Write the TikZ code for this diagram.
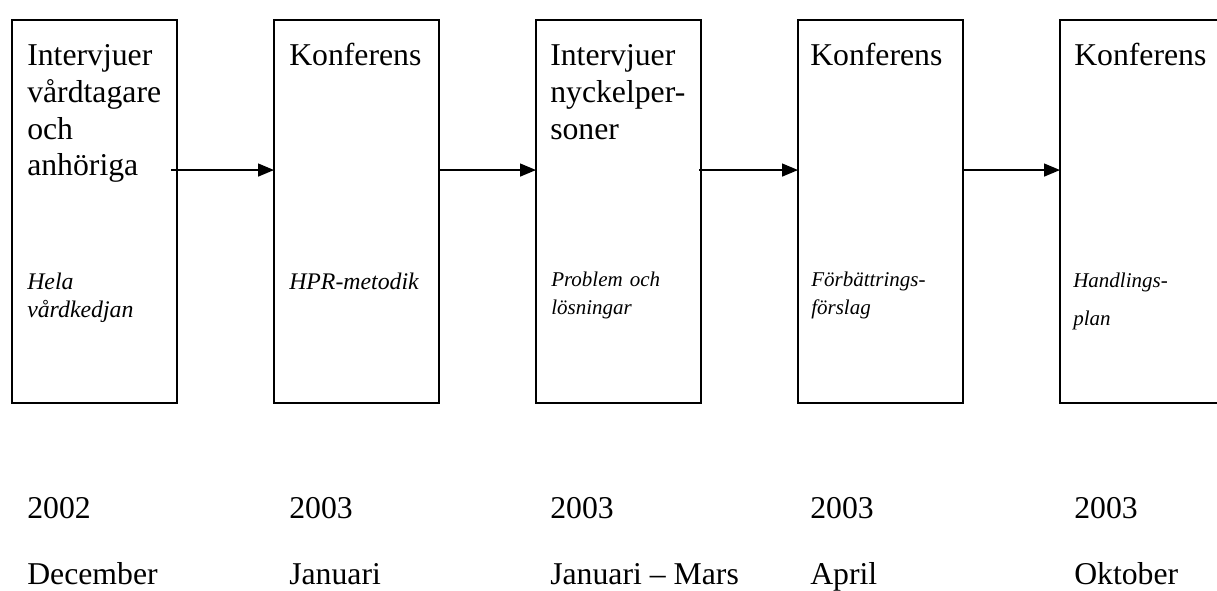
\documentclass[tikz,border=0pt]{standalone}
\usepackage{fontspec}
\setmainfont{Liberation Serif}
\usetikzlibrary{arrows.meta,positioning}

\tikzset{
  stagebox/.style={draw, line width=1.5pt, minimum width=123.75pt, minimum height=287.25pt,
    anchor=north west, inner sep=0pt, outer sep=0pt},
  headtext/.style={anchor=base west, inner sep=0pt, text width=112pt, align=left,
    font=\fontsize{23.8pt}{27.5pt}\selectfont},
  notetext/.style={anchor=base west, inner sep=0pt, text width=112pt, align=left,
    font=\fontsize{17.85pt}{21pt}\selectfont\itshape},
  smallnote/.style={notetext, font=\fontsize{15.75pt}{21pt}\selectfont\itshape},
  datetext/.style={anchor=base west, inner sep=0pt, font=\fontsize{23.8pt}{27.5pt}\selectfont},
  flow/.style={line width=1.1pt, -{Triangle[length=12pt,width=9.75pt]}}
}

\begin{document}
\begin{tikzpicture}[x=0.75pt,y=-0.75pt]
  \useasboundingbox (0,0) rectangle (1217,590);
  \clip (0,0) rectangle (1217,590);
  % stages
  \node[stagebox] (b1) at (12,20) {};
  \node[stagebox, right=72.75pt of b1] (b2) {};
  \node[stagebox, right=72.75pt of b2] (b3) {};
  \node[stagebox, right=72.75pt of b3] (b4) {};
  \node[stagebox, right=72.75pt of b4] (b5) {};
  % headings
  \node[headtext] (h1) at (27,65.7) {Intervjuer\\vårdtagare\\och\\anhöriga};
  \node[headtext] (h2) at (289,65.7) {Konferens};
  \node[headtext] (h3) at (550,65.7) {Intervjuer\\nyckelper-\\soner};
  \node[headtext] (h4) at (810,65.7) {Konferens};
  \node[headtext] (h5) at (1074,65.7) {Konferens};
  % notes
  \node[notetext] (n1) at (27,289.3) {Hela\\vårdkedjan};
  \node[notetext] (n2) at (289,289) {HPR-metodik};
  \node[smallnote] (n3) at (551,286) {Problem och\\lösningar};
  \node[smallnote] (n4) at (811,286) {Förbättrings-\\förslag};
  \node[smallnote, font=\fontsize{15.75pt}{28.5pt}\selectfont\itshape] (n5) at (1073,287) {Handlings-\\plan};
  % dates
  \node[datetext] (y1) at (27,518) {2002};
  \node[datetext] (y2) at (289,518) {2003};
  \node[datetext] (y3) at (550,518) {2003};
  \node[datetext] (y4) at (810,518) {2003};
  \node[datetext] (y5) at (1074,518) {2003};
  \node[datetext] (m1) at (27,584) {December};
  \node[datetext] (m2) at (289,584) {Januari};
  \node[datetext] (m3) at (550,584) {Januari \textendash{} Mars};
  \node[datetext] (m4) at (810,584) {April};
  \node[datetext] (m5) at (1074,584) {Oktober};
  % arrows
  \draw[flow] ([xshift=-4.5pt,yshift=31.1pt]b1.east) -- ([yshift=31.1pt]b2.west);
  \draw[flow] ([yshift=31.1pt]b2.east) -- ([yshift=31.1pt]b3.west);
  \draw[flow] ([xshift=-1.5pt,yshift=31.1pt]b3.east) -- ([yshift=31.1pt]b4.west);
  \draw[flow] ([yshift=31.1pt]b4.east) -- ([yshift=31.1pt]b5.west);
\end{tikzpicture}
\end{document}
